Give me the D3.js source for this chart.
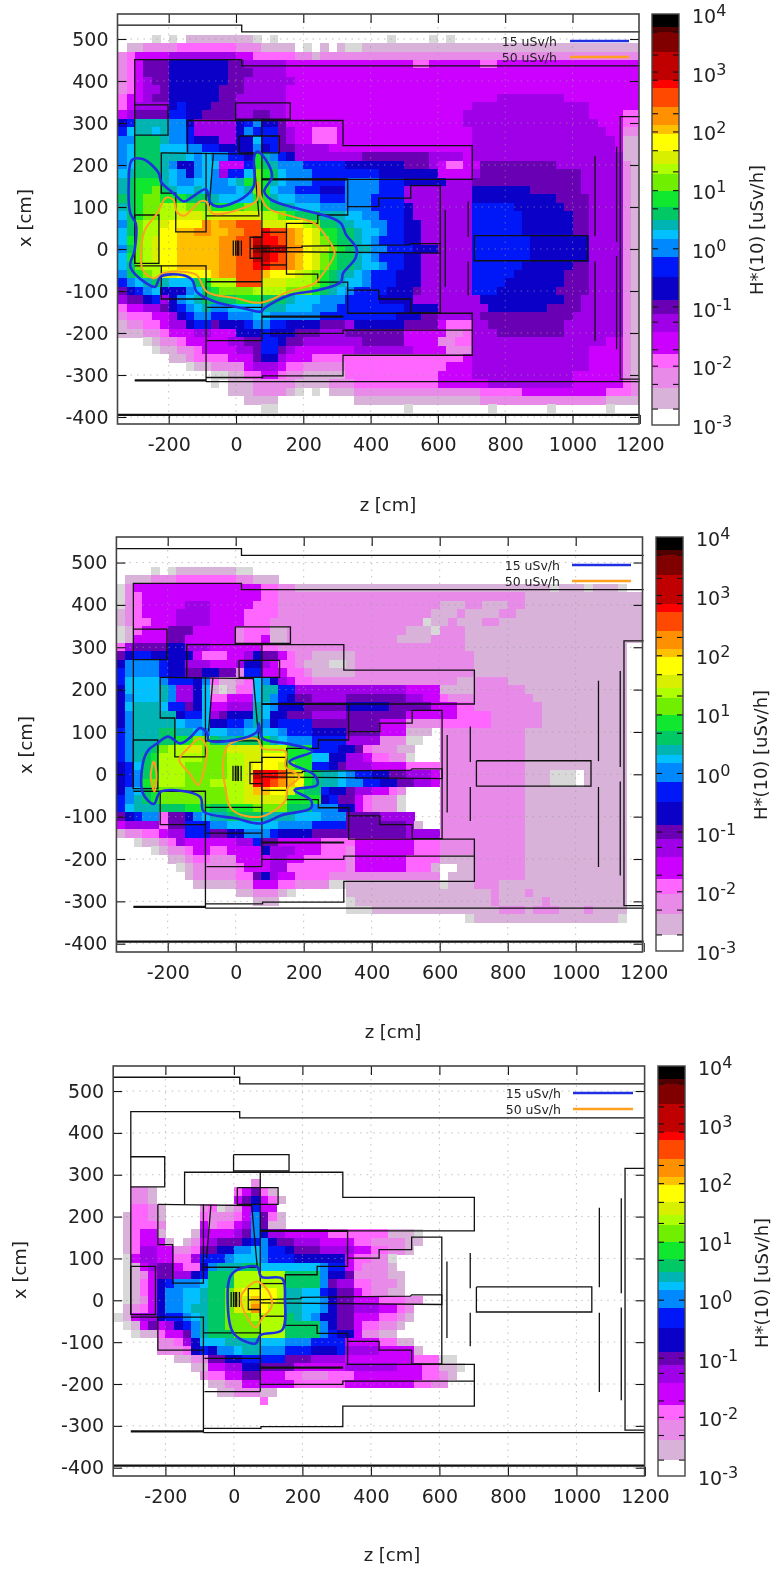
<!DOCTYPE html>
<html>
<head>
<meta charset="utf-8">
<script src="https://cdn.jsdelivr.net/npm/d3@7/dist/d3.min.js"></script>
<style>
html,body{margin:0;padding:0;background:#fff}
svg{display:block;filter:blur(0.6px)}
text{font-family:"DejaVu Sans",sans-serif;fill:#222}
</style>
</head>
<body>
<svg id="chart" width="773" height="1569"></svg>
<script>
// ---- colour levels: letter, lower edge of the band in log10(uSv/h), colour
const levelKeys = ["m","o","p","c","v","d","n","b","s","k","t","e","f","l","h","j","y","a","r","q","x","w","z","A","B"];
const levelEdges = [-2.72,-2.37,-2.03,-1.78,-1.41,-1.10,-0.87,-0.47,-0.13,0.18,0.32,0.49,0.72,1.0,1.29,1.46,1.68,1.97,2.11,2.42,2.74,2.88,3.36,3.70,3.79,4];
const levelColours = ["#d8b2d8","#e88ae8","#ff66ff","#cc00ff","#a000e8","#6a00b4","#0a00c8","#0018f8","#0088ff","#00c0ff","#00b4b4","#00c864","#10e830","#70f000","#b0ff00","#d8f000","#ffff00","#ffc000","#ff9000","#ff4800","#ff0000","#c00000","#800000","#500000","#000000"];
const belowScaleColour = "#d8d8d8"; // letter g

const barTicks = [3.70,3.31,3.02,2.88,2.31,2.0,1.68,1.32,1.0,0.69,0.01,-0.98,-1.24,-1.71,-1.99,-2.30,-2.72];
const barExponents = [4,3,2,1,0,-1,-2,-3];
const zTicks = [-200,0,200,400,600,800,1000,1200];
const xTicks = [500,400,300,200,100,0,-100,-200,-300,-400];
const gridZ = [-200,0,200,400,600,800,1000];
const zStart = -350, zStep = 25, xTop = 510, xStep = 20;

// ---- dose map rows, run-length coded letters; row r spans x = 510-20r .. 490-20r, column j spans z = -350+25j
const panel1Rows = [
"4.g.g.8mg.g13.g4.g.g22.",
"1.2m4o7p3o4m1.g.m.m2g33m",
"op4c8v2c5p2omo37o",
"opc3d7n2d5v5c10c2p6c2p17c",
"opc3d7n3d4v42c",
"opcv2d7n2d6v41c",
"opc2vd6n3d5v42c",
"p2cv2d6n2d6v25c8v9c",
"pc4vnb3n3d6v22c14v6c",
"cv4d2b2n4d2v2d2v21c15v4c2p",
"nb4t2sn5vnbs2nd21c16v3c2p",
"bk2tkt2sb5vns3bdv2c3p16c16v2c2o",
"2s3et2sb3n2v2nk2bdv2c3p16c17vc2m",
"sk3ek2k2s2b4nsnb2d4v17c17vc2m",
"sk3e3tksk2s2bnftsbn8v8d4vc18v2m",
"sk3ets2ns2k3cbfet3s5b7n3dvc2p2c9d8vom",
"kt3etksnsksv2bklfek3s8b7n4cv12d5vom",
"te3ftk2s2k2sktflftk3s4b4s3b5n3v13d5vom",
"te2flet2ktk3sktlfk2s3b3n4s3b8v7n6d5vom",
"2ef2l3f3et4k2ft2k3s3b3s4b8v10n4d4vom",
"tef2l3h3l4f2lf2et3k6s4bn7v5b6n3d4vom",
"kef2l2h3jh6j2hlf3e3t2k2s3bn7v6b6n2d4vom",
"sel2hj4yra2r3q3j2yhl2e2t2k2s2b2n6v6b6n2d4vom",
"kel2h2y2a2r2a2r2qx2qrayj2f2et2ks2b2n6v6b6n2d4vom",
"kflhj2y5a2r2qw2xqrayjlf2etks3b2n6v7b7n4vom",
"selhj2y5a2r2q2z2w2ry2jlfe2t2s3b3n4v7b7n4vom",
"kflhj2y5a2r2q2wxqrayjlf2etks3b2n6v7b7n4vom",
"kel2h2y5a2r2q2x2qrayjlf2et2ks2b2n6v6b6n2d4vom",
"seflh2j4ya2r3qa3yjhlfe2tks3b3n6v5b6n3d4vom",
"bsktet3kef3h3q3j3hlfet2ks3b3n6v4b7n3d4vom",
"dnbsk3nskef4l4h3lfetks4b3nd6v3b7n4d4vom",
"v2dnbvnskt4e3f3et3k3s4b4n8v10n2d5vom",
"p2c2vdnbskt2s4k3t3k3s8b4n6v7n4d5vom",
"o3p2cvnb2s2b3s2k6s9b3n2d5v11d6vom",
"m2o2pc2vn2bd3nb2s2b4n3dv6n4dc3p2v9d7vom",
"3m2op3c2v3c3nb3n3d3v7d5c2op3v8d7vom",
"3.gm2op5c2v2d2bn2d7v5d4c2o2p16v2com",
"4.g2m2op4c2vd2bdv7c7v4c3o14v4com",
"6.2mo4p3cd2nv3c18pc14v4com",
"8.g2m4oc3vc2p5o12p3c14v4com",
"11.2g2m2p2cp2o5m11p4c12v6com",
"11.g.3m5o4m3o10p6c10v6cpo",
"13.3m4omg.g.3m15o5p10c3po",
"15.4m9.15m15o4m",
"17.2g15.g9.g6.g6.g3."
];
const panel2Rows = [
"62.",
"4.g.g7m2g",
"1.3m3o7p2o3m",
"go15c2p2o30mg3mg3mg",
"gop14c2p29o14m",
"gop5c3v5c3p19o3m2o3m2o14m",
"mop4c4v4c4p18o3mo4m2o15m",
"mo2p3c4v4c3p18og2mo3m2o17m",
"gmp3c3d5co3p2m14o3mg3o21m",
"gm4c2d6co2pc2m13o4m4o21m",
"pv4d2n3v6c2p22o19m",
"dn2b5nc3p2cvn2dcp2o5m14o18m",
"n4sb2n3v3cv2nvc2po3m2gm14o18m",
"b4sb2n2d2n2do2b3c2po5m14o18m",
"b4ks3bnsp2mopksnvc2p17o2m4o14m",
"n4kts2vnkmgm2pk2t2b13v4c4m6o12m",
"ns3kts2vnk2p3cktsbn2d4v7d2v2cp10o11m",
"nk3tk2bdnk2c3vtks3n5d5n5d3c2p8o10m",
"ns5tn2bkvd3ntk2n3d4v7d6c4p6o10m",
"ns5tk2sk2n2bstsn4b8d3c4o6p6o10m",
"bs3t2e2tks2k2s4ks3b4n4d3c3m.10o12m",
"bs3t2e2f2le2t3eftk3s4b4v3o2g2.10o12m",
"bs2tel2h2j3l4j3h3f3b2ndp3o2m3.10o12m",
"bstef5h3l2h2j3y3f2k2n2vc2p2og3.10o12m",
"nbkef3h5l2hj3yjl2f2bnd3v4c4p10o12m",
"nbsef3h5l2hjw2xqajfe2tks2b2n2d3vc10o3m3g.5m",
"nbsfl3h3l4hj2xqrayfe2tk2s2b2n2d2vc10o3m3g.5m",
"nskef8l2hj2a2yjf2eb2nd2v2cpo4.10o12m",
"bstef8l2h5j4fnb2dcp3og4.10o12m",
"bk3t3e3f2e3f4l3e3s2ncp3og4.10o12m",
"dnb2sp2dnsk2t4e4t3k3s4d4v3.10o12m",
"c4vp2d3b2s6k4s4b7dvm2.10o12m",
"m2o2pc2v3b2d2n3sb4n11d4v10o12m",
"2.g2mopv6c2vb2d5c4p7c3p10o12m",
"4.gm2op2c2p4cn3v3c3po7c3p10o12m",
"6.2mo2p3o4c2v2c5po6c4p4m6o12m",
"7.gm5op3c2v7po6c3pm2.2m6o12m",
"8.m5o2pdnv2c4p13o.3m6o12m",
"9.5m2o3c2p4o2g11mg3m3o15m",
"14.2m3omg6.17mo3mo11m",
"16.3m8.g16mo5mo9m",
"27.3g15m3om3o3mo4m",
"41.g17mg"
];
const panel3Rows = [
"62.","62.","62.","62.","62.","62.","62.","62.","62.","62.","62.",
"16.o",
"2.2om9.pcdpm",
"2.2om9.cdncpm",
"2.2pom4.opgmocb2c",
"1.m2pom4.p3opcsdpm",
"1.m3po4.co2pcvsd2m",
"1.mp2cm3.mvc2cvdsn2v5c7p3mg",
"1.mp3cm.mocv3dnbsn2d3v4c2p4o2m",
"1.mp2v2c2op2d2n2sks2bn3d4v2c2p2om",
"1.gc2v2c2pv3bs3ks3b6nc2p2og",
"1.gmcv2dc2pns3t2e7ks2bcp3om",
"1.gmoc2d2vnb3e6h4es2nd4o2m",
"1.gmpcnb3sk3e6h4esd2v2p3om",
"1.gmpcn2s2kt2elj4yh2t2kbn2dcp2o2m",
"1.gmocn2s2kt2el2ja2yh2t2ksn2d3c3p2o",
"1.mopcn2sk2t2el2jry2h2t2ksn2d3v2cpo",
"gmc2vn2bskt2e3l4hetks2n2d3c2pom",
"1.gmcdcvnbst2e4l3h4esn2dc2p2om",
"2.g2mp2cdst3e3l3h4esb2nc2o2m",
"5.2opvn3k4t3k3s4b4c2p2m",
"5.3opnbn2sk2t3s3b3nb4v4cm",
"7.2m2o2d2n5b3d4v8c3p2g",
"9.2m2c2v2n4d3c3c6v3c2p2mg",
"10.o2p2c2d3c2p3o3p8c2pom",
"11.2m2o6c6p8c2p2o",
"12.2m3o2m",
"17.p"
];

// ---- geometry outlines, as [z, x] in cm (same in all three maps)
const wallLines = [
 [[-352,533],[17,533],[17,517],[1200,517]],
 [[-301,-35],[-301,451],[17,451],[17,436],[1200,436]],
 [[-301,343],[-202,343],[-202,271],[-301,271]],
 [[-1,348],[161,348],[161,309],[-1,309],[-1,348]],
 [[-144,229],[-144,306],[318,306],[318,246],[702,246],[702,166],[77,166]],
 [[-222,229],[52,226],[68,81]],
 [[-222,229],[-222,133],[-179,133],[-179,41],[-89,41],[-89,229]],
 [[-89,79],[70,79]],
 [[-67,228],[-80,101]],
 [[10,269],[129,269],[129,229],[10,229],[10,269]],
 [[77,306],[77,-218]],
 [[77,166],[332,166],[332,81],[243,81],[243,61],[150,61],[150,-60],[243,-60],[243,-79],[332,-79],[332,-153],[702,-153],[702,-253],[318,-253],[318,-302],[79,-302],[79,-306],[-89,-306]],
 [[-301,81],[-229,81],[-229,-34],[-301,-34],[-301,81]],
 [[-301,-40],[-89,-40],[-89,-316]],
 [[-222,-40],[-222,-119],[-89,-119]],
 [[-89,-78],[77,-78]],
 [[-86,-139],[77,-139]],
 [[-86,-218],[77,-218]],
 [[77,40],[150,40]],
 [[77,-38],[150,-38]],
 [[77,40],[77,28],[42,28],[42,-22],[77,-22],[77,-38]],
 [[42,1],[196,4],[196,7],[515,10],[519,13],[607,13],[607,-10],[77,-6]],
 [[332,101],[424,101],[424,121],[519,121],[519,151],[607,151],[607,-152],[519,-152],[519,-119],[424,-119],[424,-98],[332,-98]],
 [[77,-201],[318,-201],[318,-193],[702,-193]],
 [[-89,-316],[1200,-316]],
 [[622,93],[622,-90]],
 [[690,113],[690,29]],
 [[690,-30],[690,-110]],
 [[1067,221],[1067,31]],
 [[1067,-30],[1067,-219]],
 [[1131,244],[1131,17]],
 [[1131,-17],[1131,-239]],
 [[1200,315],[1142,315],[1142,-310],[1200,-310]],
 [[708,32],[1045,32],[1045,-28],[708,-28],[708,32]],
 [[8,20],[8,-16]],[[16,20],[16,-16]],[[-8,20],[-8,-16]],[[-1,20],[-1,-16]],[[4,20],[4,-16]]
];
const thickLines = [
 [[-301,-313],[-89,-313]],
 [[77,-161],[319,-161]],
 [[77,166],[332,166]],
 [[-352,-395],[1200,-395]]
];

// ---- 15 and 50 uSv/h contours, as [z, x] in cm
const blue1 = [[-309,212],[-277,214],[-245,196],[-229,180],[-222,159],[-186,133],[-155,113],[-128,125],[-89,142],[-75,109],[-48,101],[20,121],[52,148],[54,220],[63,232],[89,212],[107,172],[84,137],[105,117],[180,97],[275,77],[312,61],[328,33],[358,2],[355,-22],[318,-58],[312,-78],[243,-98],[158,-110],[84,-141],[74,-149],[20,-141],[-64,-125],[-117,-102],[-130,-74],[-160,-62],[-224,-66],[-240,-90],[-266,-82],[-314,-42],[-301,-2],[-298,61],[-314,85],[-319,149]];
const orange1 = [[-208,122],[-186,117],[-176,89],[-155,79],[-128,97],[-107,113],[-89,113],[-70,85],[20,97],[63,117],[65,160],[74,125],[95,97],[169,77],[233,61],[275,21],[293,-10],[259,-58],[233,-82],[158,-101],[74,-128],[-1,-117],[-86,-102],[-117,-62],[-160,-54],[-218,-58],[-245,-70],[-277,-50],[-282,-10],[-271,45],[-234,85]];
const blue2 = [[-231,73],[-199,89],[-163,73],[-131,89],[-105,109],[-84,97],[-79,80],[21,85],[63,101],[68,120],[79,85],[147,73],[210,61],[226,54],[158,30],[231,-1.5],[240,-25],[173,-37],[221,-61],[221,-80],[137,-96],[74,-116],[0,-104],[-94,-88],[-105,-53],[-220,-41],[-241,-70],[-273,-45],[-273,26],[-257,57]];
const orange2a = [[-241,30],[-233,2.4],[-239,-41],[-250,-5.5]];
const orange2b = [[-105,85],[-86,65],[-89,26],[-110,-25],[-136,2.4],[-166,34],[-136,65]];
const orange2c = [[-21,69],[63,83],[79,61],[147,54],[147,18],[187,-5.4],[152,-33],[147,-61],[74,-100],[-10,-84],[-31,-29],[-37,26]];
const blue3 = [[-5,64],[68,80],[80,56],[141,52],[149,0.7],[141,-71],[78,-83],[63,-103],[0,-80],[-18,-7]];
const orange3 = [[68,45],[104,17],[110,-15],[83,-43],[63,-65],[26,-19],[21,9],[42,33]];

const legendLabels = ["15 uSv/h","50 uSv/h"];
const contourColours = ["#2030e0","#ffa020"];

// ---- panel placement in the page
const panels = [
 {rows:panel1Rows, blue:[blue1], orange:[orange1], left:117.5, right:639, top:14, bottom:424, bar:[652,679,14,425],
  legendText:557, legendLine:[570,629], legendY:[41,57], zLabel:[388,505], xLabel:[25,218], barLabel:[757,230], zeroY:249, perCm:0.42, zeroX:236, perZ:0.3365},
 {rows:panel2Rows, blue:[blue2], orange:[orange2a,orange2b,orange2c], left:116.4, right:642.5, top:537, bottom:952, bar:[656,683,537,951],
  legendText:560, legendLine:[572,631], legendY:[565,581], zLabel:[393,1032], xLabel:[26,745], barLabel:[761,755], zeroY:774.3, perCm:0.4235, zeroX:235.7, perZ:0.34},
 {rows:panel3Rows, blue:[blue3], orange:[orange3], left:113.2, right:644.6, top:1066, bottom:1476, bar:[658,685,1066,1476],
  legendText:561, legendLine:[573,633], legendY:[1093,1109], zLabel:[392,1555], xLabel:[20,1270], barLabel:[762,1283], zeroY:1300.3, perCm:0.4185, zeroX:233.9, perZ:0.3425}
];

// ---- helpers
function decodeRow(s){
  const out=[]; const re=/(\d*)([a-zA-Z.])/g; let m;
  while((m=re.exec(s))){ const n=m[1]?+m[1]:1; for(let i=0;i<n;i++) out.push(m[2]); }
  return out;
}
const colourOf = k => k==="g" ? belowScaleColour : levelColours[levelKeys.indexOf(k)];
const svg = d3.select("#chart");

panels.forEach((p,idx)=>{
  const g=svg.append("g");
  const zScale=d3.scaleLinear().domain([(p.left-p.zeroX)/p.perZ,(p.right-p.zeroX)/p.perZ]).range([p.left,p.right]);
  const xScale=d3.scaleLinear().domain([(p.zeroY-p.bottom)/p.perCm,(p.zeroY-p.top)/p.perCm]).range([p.bottom,p.top]);

  // dose cells
  const cells=[];
  p.rows.forEach((row,r)=>decodeRow(row).forEach((k,j)=>{ if(k!=="." && j<62) cells.push({k,j,r}); }));
  g.append("g").attr("shape-rendering","crispEdges").selectAll("rect").data(cells).join("rect")
    .attr("x",d=>Math.max(zScale(zStart+zStep*d.j),p.left))
    .attr("y",d=>xScale(xTop-xStep*d.r))
    .attr("width",d=>Math.min(zScale(zStart+zStep*(d.j+1)),p.right)-Math.max(zScale(zStart+zStep*d.j),p.left)+0.3)
    .attr("height",d=>xScale(xTop-xStep*(d.r+1))-xScale(xTop-xStep*d.r)+0.3)
    .attr("fill",d=>colourOf(d.k));

  // dotted grid
  const grid=g.append("g").attr("stroke","#999").attr("stroke-width",1).attr("stroke-dasharray","1.5,5").attr("opacity",.6);
  grid.selectAll(".gz").data(gridZ).join("line").attr("x1",d=>zScale(d)).attr("x2",d=>zScale(d)).attr("y1",p.top).attr("y2",p.bottom);
  grid.selectAll(".gx").data(xTicks).join("line").attr("x1",p.left).attr("x2",p.right).attr("y1",d=>xScale(d)).attr("y2",d=>xScale(d));

  // walls
  const line=d3.line().x(d=>zScale(d[0])).y(d=>xScale(d[1]));
  g.append("g").attr("fill","none").attr("stroke","#111").attr("stroke-width",1.3).attr("stroke-linejoin","miter")
    .selectAll("path").data(wallLines).join("path").attr("d",line);
  g.append("g").attr("fill","none").attr("stroke","#111").attr("stroke-width",2.2)
    .selectAll("path").data(thickLines).join("path").attr("d",line);

  // contours
  const smooth=d3.line().x(d=>zScale(d[0])).y(d=>xScale(d[1])).curve(d3.curveCatmullRomClosed.alpha(0.5));
  g.append("g").attr("fill","none").attr("stroke",contourColours[1]).attr("stroke-width",2).selectAll("path").data(p.orange).join("path").attr("d",smooth);
  g.append("g").attr("fill","none").attr("stroke",contourColours[0]).attr("stroke-width",2.6).selectAll("path").data(p.blue).join("path").attr("d",smooth);

  // legend
  legendLabels.forEach((t,i)=>{
    g.append("text").attr("x",p.legendText).attr("y",p.legendY[i]+4.5).attr("text-anchor","end").attr("font-size",12.5).text(t);
    g.append("line").attr("x1",p.legendLine[0]).attr("x2",p.legendLine[1]).attr("y1",p.legendY[i]).attr("y2",p.legendY[i]).attr("stroke",contourColours[i]).attr("stroke-width",2.4);
  });

  // axes (inward ticks on all four sides)
  const style=(a)=>{a.select(".domain").remove(); a.selectAll(".tick line").attr("stroke","#111").attr("stroke-width",1.1); a.selectAll("text").attr("font-size",19).attr("fill","#222").attr("font-family",'"DejaVu Sans",sans-serif');};
  g.append("g").attr("transform",`translate(0,${p.bottom})`).call(d3.axisBottom(zScale).tickValues(zTicks).tickSize(-9).tickPadding(14).tickFormat(String)).call(style);
  g.append("g").attr("transform",`translate(0,${p.top})`).call(d3.axisTop(zScale).tickValues(zTicks.slice(0,-1)).tickSize(-9).tickFormat("")).call(style);
  g.append("g").attr("transform",`translate(${p.left},0)`).call(d3.axisLeft(xScale).tickValues(xTicks).tickSize(-9).tickPadding(9).tickFormat(String)).call(style);
  g.append("g").attr("transform",`translate(${p.right},0)`).call(d3.axisRight(xScale).tickValues(xTicks).tickSize(-9).tickFormat("")).call(style);
  g.append("rect").attr("x",p.left).attr("y",p.top).attr("width",p.right-p.left).attr("height",p.bottom-p.top).attr("fill","none").attr("stroke","#444").attr("stroke-width",1.6);

  g.append("text").attr("x",p.zLabel[0]).attr("y",p.zLabel[1]+6).attr("text-anchor","middle").attr("font-size",18).text("z [cm]");
  g.append("text").attr("transform",`translate(${p.xLabel[0]+6},${p.xLabel[1]}) rotate(-90)`).attr("text-anchor","middle").attr("font-size",18).text("x [cm]");

  // colour bar
  const [bl,br,bt,bb]=p.bar;
  const barScale=d3.scaleLog().domain([1e-3,1e4]).range([bb,bt]);
  const bands=levelColours.map((c,i)=>({c,lo:Math.pow(10,levelEdges[i]),hi:Math.pow(10,levelEdges[i+1])}));
  g.append("g").attr("shape-rendering","crispEdges").selectAll("rect").data(bands).join("rect")
    .attr("x",bl).attr("width",br-bl).attr("y",d=>barScale(d.hi)).attr("height",d=>barScale(d.lo)-barScale(d.hi)+0.4).attr("fill",d=>d.c);
  const tv=barTicks.map(v=>Math.pow(10,v));
  g.append("g").attr("transform",`translate(${bl},0)`).call(d3.axisLeft(barScale).tickValues(tv).tickSize(-6).tickFormat("")).call(style);
  g.append("g").attr("transform",`translate(${br},0)`).call(d3.axisRight(barScale).tickValues(tv).tickSize(-6).tickFormat("")).call(style);
  g.append("rect").attr("x",bl).attr("y",bt).attr("width",br-bl).attr("height",bb-bt).attr("fill","none").attr("stroke","#444").attr("stroke-width",1.4);
  const lab=g.append("g").selectAll("text").data(barExponents).join("text")
    .attr("x",br+13).attr("y",d=>barScale(Math.pow(10,d))+9).attr("font-size",19);
  lab.append("tspan").text("10");
  lab.append("tspan").attr("dy",-7).attr("font-size",16).text(d=>String(d));
  g.append("text").attr("transform",`translate(${p.barLabel[0]+6},${p.barLabel[1]}) rotate(-90)`).attr("text-anchor","middle").attr("font-size",18).text("H*(10) [uSv/h]");
});
</script>
</body>
</html>
